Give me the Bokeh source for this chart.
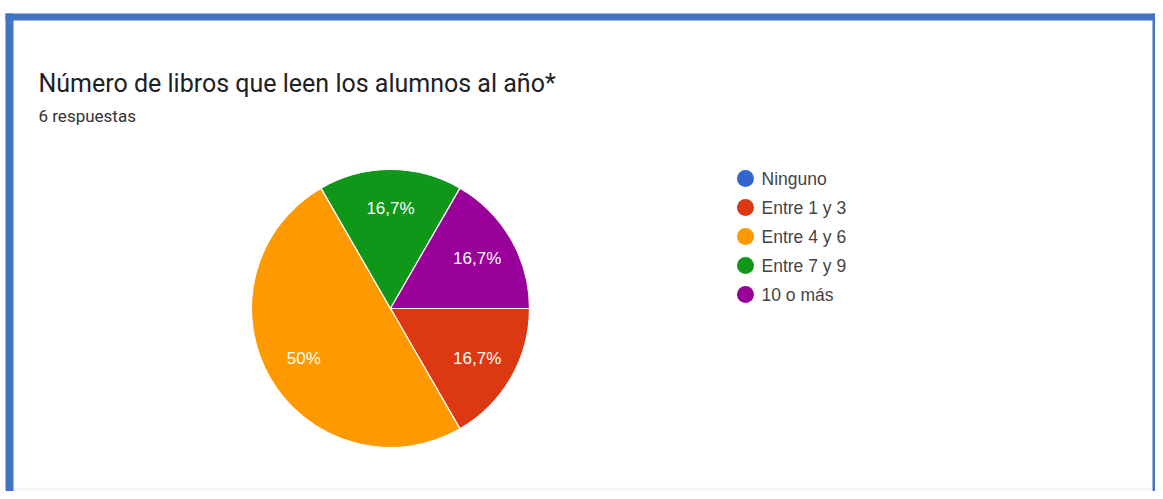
import math
from bokeh.plotting import figure
from bokeh.models import Range1d, ColumnDataSource
from bokeh.core.properties import value
from bokeh.embed import file_html
from bokeh.resources import INLINE

# ---- data ----
title_text = "Número de libros que leen los alumnos al año*"
subtitle_text = "6 respuestas"
categories = ["Ninguno", "Entre 1 y 3", "Entre 4 y 6", "Entre 7 y 9", "10 o más"]
counts = [0, 1, 3, 1, 1]
colors = ["#3366CC", "#DC3912", "#FF9900", "#109618", "#990099"]

TITLE_FONT = "Roboto"
CHART_FONT = "Liberation Sans"
W, H = 1155, 491

def py(y):  # image y -> data y
    return H - y

p = figure(width=W, height=H, output_backend="svg", toolbar_location=None,
           x_range=Range1d(0, W), y_range=Range1d(0, H), min_border=0)
p.axis.visible = False
p.grid.visible = False
p.outline_line_color = None
p.background_fill_color = "white"
p.border_fill_color = "white"

# ---- frame ----
border = "#4472C4"
p.quad(left=[13], right=[1152], top=[py(20)], bottom=[py(487)], fill_color="white", line_color=None)
p.quad(left=[13], right=[1152], top=[py(487)], bottom=[py(510)], fill_color="#f6f7f9", line_color=None)
p.quad(left=[5, 5, 1152], right=[1160, 13, 1160], top=[py(13), py(13), py(13)],
       bottom=[py(20), py(510), py(510)], fill_color=border, line_color=None)

# ---- titles ----
p.text(x=[38], y=[py(83)], text=[title_text], text_font=value(TITLE_FONT), text_font_size="25px",
       text_color="#202124", text_baseline="alphabetic", text_align="left")
p.text(x=[38], y=[py(115)], text=[subtitle_text], text_font=value(TITLE_FONT), text_font_size="17px",
       text_color="#333333", text_baseline="alphabetic", text_align="left")

# ---- pie ----
cx, cy, r = 390, py(308), 139
total = sum(counts)
starts, ends, wcols, lx, ly, labs = [], [], [], [], [], []
cum = 0.0
for c, col in zip(counts, colors):
    a0 = -2 * math.pi * cum / total
    cum += c
    a1 = -2 * math.pi * cum / total
    if c == 0:
        continue
    starts.append(a0); ends.append(a1); wcols.append(col)
    mid = (a0 + a1) / 2
    lx.append(cx + 0.72 * r * math.cos(mid))
    ly.append(cy + 0.72 * r * math.sin(mid))
    pct = round(c / total * 100, 1)
    s = ("%.1f" % pct).rstrip("0").rstrip(".").replace(".", ",")
    labs.append(s + "%")

src = ColumnDataSource(dict(start=starts, end=ends, color=wcols))
p.wedge(x=cx, y=cy, radius=r, radius_units="screen", start_angle="start", end_angle="end",
        direction="clock", fill_color="color", line_color="white", line_width=1.2, source=src)
p.text(x=lx, y=ly, text=labs, text_font=value(CHART_FONT), text_font_size="17px", text_color="white",
       text_align="center", text_baseline="middle")

# ---- legend ----
ly0, step = 178, 29
leg_y = [py(ly0 + i * step) for i in range(len(categories))]
p.scatter(x=[745] * len(categories), y=leg_y, size=17, marker="circle", fill_color=colors, line_color=None)
p.text(x=[761] * len(categories), y=leg_y, text=categories, text_font=value(CHART_FONT), text_font_size="17.5px",
       text_color="#444444", text_align="left", text_baseline="middle")

open("out.html", "w").write(file_html(p, INLINE))
